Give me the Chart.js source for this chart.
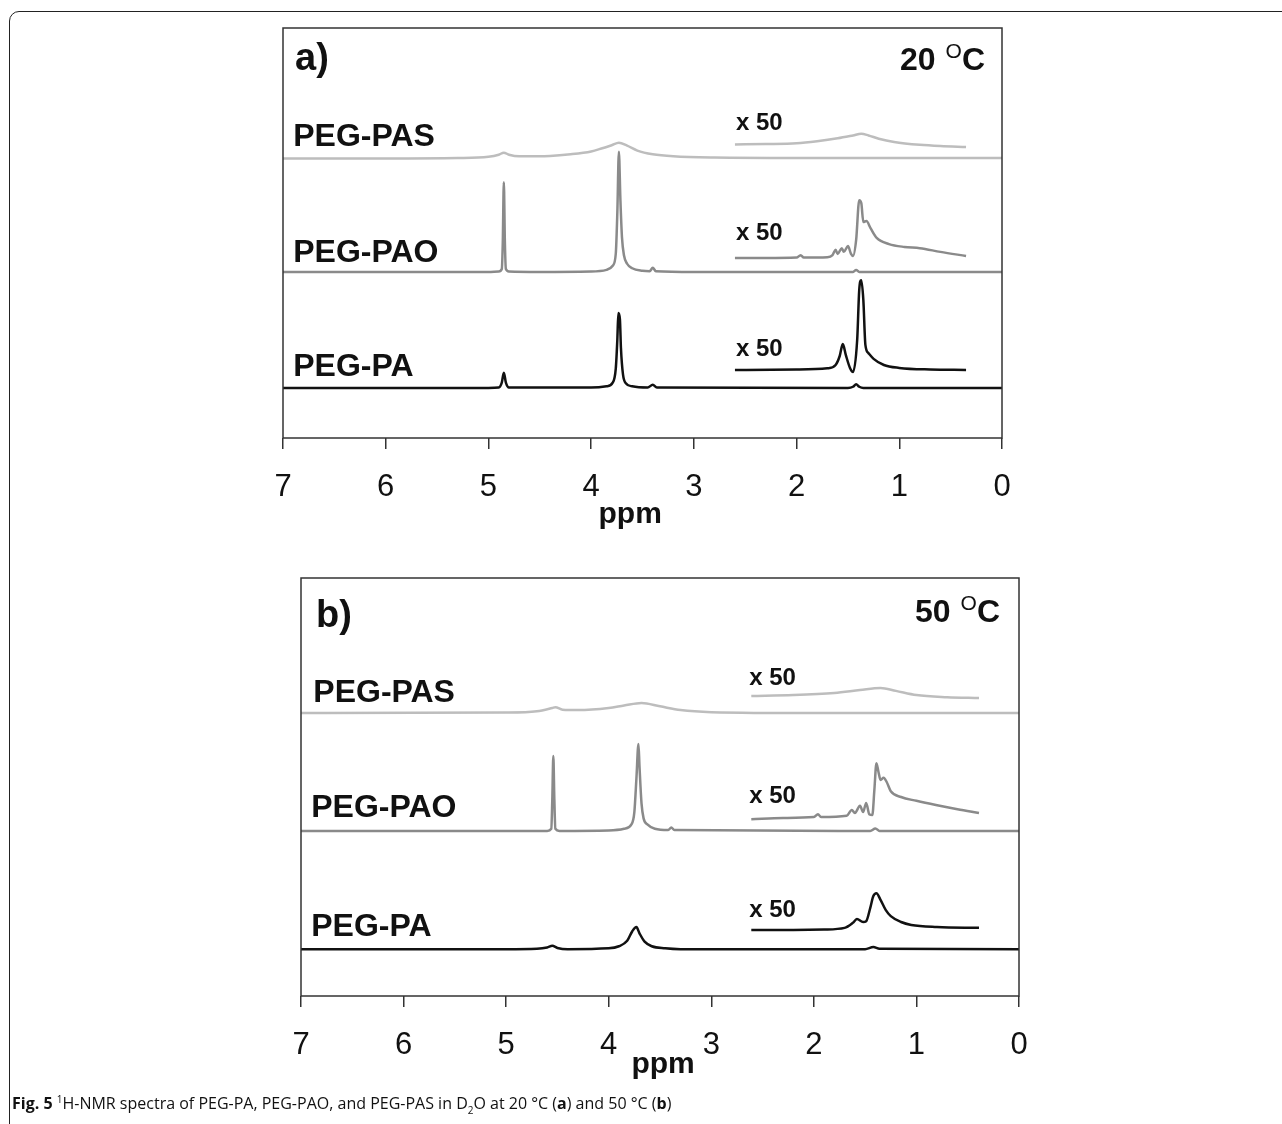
<!DOCTYPE html>
<html>
<head>
<meta charset="utf-8">
<script src="https://cdn.jsdelivr.net/npm/chart.js@4"></script>
<style>
  body { margin: 0; background: #fff; width: 1282px; height: 1124px; overflow: hidden; position: relative; }
  #frame { position: absolute; left: 9px; top: 11px; width: 1300px; height: 1140px; border: 1.5px solid #222; border-radius: 10px; box-sizing: border-box; }
  canvas { position: absolute; left: 0; }
  #cap { position: absolute; left: 12px; top: 1092px; font-family: "Open Sans", sans-serif; font-size: 16px; color: #111; white-space: nowrap; }
  #cap sup, #cap sub { font-size: 10px; }
</style>
</head>
<body>
<div id="frame"></div>
<canvas id="chartA" width="1282" height="540" style="top:0"></canvas>
<canvas id="chartB" width="1282" height="560" style="top:540px"></canvas>
<div id="cap"><b>Fig. 5</b> <sup>1</sup>H-NMR spectra of PEG-PA, PEG-PAO, and PEG-PAS in D<sub>2</sub>O at 20 °C (<b>a</b>) and 50 °C (<b>b</b>)</div>

<script>
// x axis ticks (ppm)
const ppmTicks = [7, 6, 5, 4, 3, 2, 1, 0];

// ---- panel a, 20 °C : [ppm, intensity (stacked, a.u.)] ----
const pasA = [[7, 68.2], [6, 68.2], [5.3, 68.3], [5.0, 68.6], [4.9, 69.1], [4.85, 69.6], [4.8, 69.1], [4.7, 68.7],
  [4.4, 68.8], [4.2, 69.2], [4.0, 69.9], [3.9, 70.6], [3.8, 71.4], [3.73, 72.0], [3.65, 71.3], [3.55, 70.1],
  [3.4, 69.2], [3.2, 68.7], [2.8, 68.4], [2.0, 68.3], [1.0, 68.3], [0, 68.3]];
const pasA50 = [[2.6, 71.6], [2.3, 71.7], [2.0, 71.9], [1.8, 72.4], [1.6, 73.1], [1.45, 73.8], [1.37, 74.2],
  [1.3, 73.8], [1.2, 73.0], [1.05, 72.2], [0.8, 71.5], [0.6, 71.2], [0.35, 71.0]];
const paoA = [[7, 40.5], [5.0, 40.5], [4.9, 40.6], [4.87, 41.2], [4.86, 48], [4.85, 62.4], [4.84, 48], [4.83, 41.2],
  [4.8, 40.6], [4.5, 40.5], [4.0, 40.6], [3.85, 41.0], [3.79, 42.0], [3.76, 45], [3.745, 55], [3.73, 69.8],
  [3.715, 58], [3.70, 49], [3.68, 44.5], [3.65, 42.5], [3.6, 41.4], [3.5, 40.8], [3.43, 40.7], [3.40, 41.5],
  [3.37, 40.7], [3.0, 40.5], [2.0, 40.5], [1.45, 40.5], [1.42, 41.0], [1.39, 40.5], [0, 40.5]];
const paoA50 = [[2.6, 43.9], [2.3, 43.9], [2.0, 44.0], [1.96, 44.6], [1.93, 44.0], [1.7, 44.1], [1.65, 44.6],
  [1.62, 45.9], [1.60, 44.9], [1.56, 46.3], [1.54, 45.4], [1.50, 46.8], [1.47, 44.9], [1.45, 44.4], [1.42, 48.3],
  [1.39, 58.0], [1.37, 57.3], [1.35, 52.7], [1.32, 52.9], [1.28, 51.2], [1.22, 48.8], [1.1, 47.3], [0.95, 46.6],
  [0.8, 46.3], [0.6, 45.4], [0.35, 44.4]];
const paA = [[7, 12.2], [5.0, 12.2], [4.9, 12.3], [4.87, 13.5], [4.85, 15.9], [4.83, 13.5], [4.8, 12.3], [4.0, 12.3],
  [3.85, 12.6], [3.79, 13.5], [3.76, 17], [3.745, 24], [3.735, 30.5], [3.72, 29], [3.71, 22], [3.69, 15.5],
  [3.66, 13.3], [3.6, 12.6], [3.45, 12.3], [3.40, 13.0], [3.36, 12.3], [1.5, 12.2], [1.45, 12.5], [1.42, 13.1],
  [1.39, 12.5], [1.35, 12.2], [0, 12.2]];
const paA50 = [[2.6, 16.6], [2.0, 16.7], [1.7, 17.0], [1.62, 17.8], [1.58, 20.0], [1.55, 22.9], [1.52, 20.2],
  [1.48, 17.1], [1.45, 16.1], [1.41, 23.9], [1.39, 36.1], [1.37, 38.5], [1.35, 33.7], [1.33, 22.7], [1.30, 20.7],
  [1.25, 19.3], [1.15, 17.8], [1.0, 17.1], [0.7, 16.7], [0.35, 16.6]];

// ---- panel b, 50 °C ----
const pasB = [[7, 67.7], [5.0, 67.8], [4.7, 68.1], [4.55, 68.9], [4.52, 69.1], [4.45, 68.5], [4.3, 68.4], [4.0, 68.9],
  [3.85, 69.5], [3.68, 70.1], [3.5, 69.3], [3.3, 68.4], [3.0, 67.9], [2.0, 67.7], [0, 67.7]];
const pasB50 = [[2.61, 71.8], [2.2, 72.0], [1.8, 72.5], [1.55, 73.2], [1.35, 73.7], [1.2, 73.0], [1.0, 72.0],
  [0.7, 71.5], [0.39, 71.3]];
const paoB = [[7, 39.5], [5.0, 39.5], [4.6, 39.5], [4.56, 40], [4.55, 47], [4.54, 57.4], [4.53, 47], [4.52, 40],
  [4.48, 39.5], [4.0, 39.6], [3.85, 40.0], [3.78, 41.0], [3.75, 44], [3.73, 52], [3.71, 60.3], [3.70, 55],
  [3.68, 46], [3.66, 42.5], [3.62, 41], [3.55, 40.0], [3.42, 39.7], [3.39, 40.3], [3.36, 39.7], [1.45, 39.5],
  [1.40, 40.1], [1.36, 39.5], [0, 39.5]];
const paoB50 = [[2.61, 42.3], [2.3, 42.6], [2.0, 42.8], [1.96, 43.5], [1.93, 42.8], [1.68, 43.1], [1.63, 44.5],
  [1.60, 43.8], [1.55, 45.5], [1.52, 44.0], [1.49, 46.2], [1.46, 43.5], [1.43, 43.3], [1.41, 49.3], [1.39, 55.7],
  [1.37, 53.6], [1.35, 51.7], [1.32, 52.2], [1.29, 51.2], [1.25, 49.0], [1.15, 47.6], [1.0, 46.7], [0.81, 45.7],
  [0.6, 44.7], [0.39, 43.8]];
const paB = [[7, 11.2], [5.0, 11.2], [4.7, 11.3], [4.6, 11.6], [4.55, 12.0], [4.5, 11.5], [4.4, 11.2], [4.0, 11.4],
  [3.9, 11.9], [3.82, 13.2], [3.77, 15.5], [3.73, 16.5], [3.70, 15.0], [3.65, 13.0], [3.58, 11.9], [3.45, 11.4],
  [3.3, 11.2], [1.5, 11.2], [1.42, 11.7], [1.36, 11.3], [0, 11.2]];
const paB50 = [[2.61, 15.8], [2.2, 15.8], [1.9, 15.9], [1.7, 16.3], [1.62, 17.5], [1.58, 18.4], [1.52, 17.7],
  [1.49, 17.9], [1.45, 21.1], [1.42, 23.9], [1.39, 24.6], [1.35, 23.0], [1.30, 20.6], [1.25, 19.1], [1.15, 17.7],
  [1.05, 17.0], [0.8, 16.5], [0.39, 16.3]];

const colors = { PAS: "#bdbdbd", PAO: "#8a8a8a", PA: "#111111" };
const FONT = "'Liberation Sans', Arial, sans-serif";

function line(points, color) {
  return {
    data: points.map((p) => ({ x: p[0], y: p[1] })),
    borderColor: color,
    borderWidth: 2.5,
    pointRadius: 0,
    cubicInterpolationMode: "monotone",
    fill: false,
  };
}

// frame, panel letter, temperature, ppm title and the trace names
const panelDecor = {
  id: "panelDecor",
  afterDatasetsDraw(chart, args, opts) {
    const { ctx, chartArea: a, scales } = chart;
    const x = scales.x, y = scales.y;
    ctx.save();
    ctx.strokeStyle = "#333";
    ctx.lineWidth = 1.5;
    ctx.strokeRect(a.left, a.top, a.right - a.left, a.bottom - a.top);

    ctx.fillStyle = "#111";
    ctx.textBaseline = "middle";
    ctx.textAlign = "left";
    opts.labels.forEach((l) => {
      ctx.font = l.font;
      ctx.fillText(l.text, x.getPixelForValue(l.ppm), y.getPixelForValue(l.at));
    });

    // "a)" / "b)"
    ctx.font = "bold 38px " + FONT;
    ctx.fillText(opts.letter, a.left + opts.letterDx, a.top + opts.letterDy);

    // temperature "20 oC" with raised o
    const ty = a.top + opts.tempDy;
    let tx = a.right - opts.tempDx;
    ctx.textAlign = "right";
    ctx.font = "bold 32px " + FONT;
    ctx.fillText("C", tx, ty);
    tx -= ctx.measureText("C").width;
    ctx.font = "21px " + FONT;
    ctx.fillText("O", tx, ty - 9);
    tx -= ctx.measureText("O").width + 1;
    ctx.font = "bold 32px " + FONT;
    ctx.fillText(opts.temp + " ", tx, ty);

    // axis title
    ctx.textAlign = "center";
    ctx.font = "bold 30px " + FONT;
    ctx.fillText("ppm", x.getPixelForValue(opts.titlePpm), a.bottom + opts.titleDy);
    ctx.restore();
  },
};

function makePanel(id, sets, pad, decor) {
  return new Chart(document.getElementById(id), {
    type: "line",
    data: { datasets: sets },
    plugins: [panelDecor],
    options: {
      responsive: false,
      animation: false,
      devicePixelRatio: 1,
      layout: { padding: pad },
      plugins: { legend: { display: false }, tooltip: { enabled: false }, panelDecor: decor },
      scales: {
        x: {
          type: "linear",
          reverse: true,
          min: 0,
          max: 7,
          afterBuildTicks: (s) => { s.ticks = ppmTicks.map((v) => ({ value: v })); },
          afterFit: (s) => { s.height = 90; },
          grid: { drawOnChartArea: false, drawTicks: true, tickLength: 11, color: "#333", lineWidth: 1.5 },
          border: { display: false },
          ticks: { padding: 20, autoSkip: false, maxRotation: 0, color: "#111", font: { family: FONT, size: 31 } },
        },
        y: { min: 0, max: 100, display: false },
      },
    },
  });
}

const bold = (s) => "bold " + s + "px " + FONT;

makePanel("chartA",
  [line(pasA, colors.PAS), line(pasA50, colors.PAS), line(paoA, colors.PAO), line(paoA50, colors.PAO),
   line(paA, colors.PA), line(paA50, colors.PA)],
  { left: 283, right: 280, top: 28, bottom: 12 },
  {
    letter: "a)", letterDx: 12, letterDy: 32, temp: "20", tempDx: 17, tempDy: 33, titlePpm: 3.62, titleDy: 77,
    labels: [
      { text: "PEG-PAS", ppm: 6.9, at: 73.4, font: bold(32) },
      { text: "PEG-PAO", ppm: 6.9, at: 45.1, font: bold(32) },
      { text: "PEG-PA", ppm: 6.9, at: 17.3, font: bold(32) },
      { text: "x 50", ppm: 2.59, at: 76.8, font: bold(24) },
      { text: "x 50", ppm: 2.59, at: 50.0, font: bold(24) },
      { text: "x 50", ppm: 2.59, at: 21.5, font: bold(24) },
    ],
  });

makePanel("chartB",
  [line(pasB, colors.PAS), line(pasB50, colors.PAS), line(paoB, colors.PAO), line(paoB50, colors.PAO),
   line(paB, colors.PA), line(paB50, colors.PA)],
  { left: 301, right: 263, top: 38, bottom: 14 },
  {
    letter: "b)", letterDx: 15, letterDy: 39, temp: "50", tempDx: 19, tempDy: 35, titlePpm: 3.47, titleDy: 69,
    labels: [
      { text: "PEG-PAS", ppm: 6.88, at: 72.5, font: bold(32) },
      { text: "PEG-PAO", ppm: 6.9, at: 45.0, font: bold(32) },
      { text: "PEG-PA", ppm: 6.9, at: 16.5, font: bold(32) },
      { text: "x 50", ppm: 2.63, at: 76.1, font: bold(24) },
      { text: "x 50", ppm: 2.63, at: 47.8, font: bold(24) },
      { text: "x 50", ppm: 2.63, at: 20.6, font: bold(24) },
    ],
  });
</script>
</body>
</html>
